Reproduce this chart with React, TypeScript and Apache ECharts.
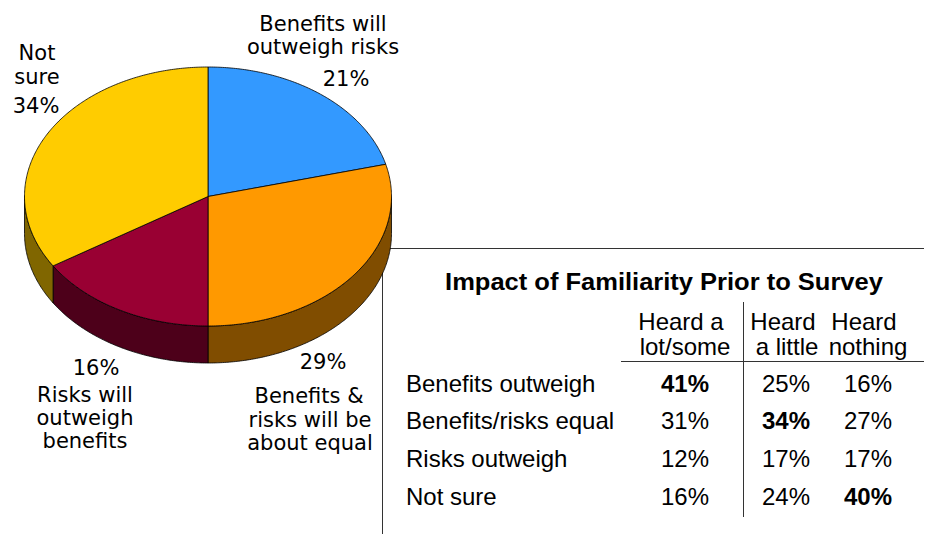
import React, { useEffect, useRef } from "react";
import * as echarts from "echarts";

const sliceNames = ["Benefits will outweigh risks", "Benefits & risks will be about equal", "Risks will outweigh benefits", "Not sure"];
const sliceValues = [21, 29, 16, 34];
const topColors = ["#3399FF", "#FF9900", "#990033", "#FFCC00"];
const sideColors = ["#1A4D80", "#804D00", "#4D001A", "#806600"];

const pieLabels: [string, number, number][] = [
  ["Benefits will", 323, 24],
  ["outweigh risks", 323, 47],
  ["21%", 346, 79],
  ["Not", 37, 53],
  ["sure", 37, 77],
  ["34%", 36, 106],
  ["16%", 96, 368],
  ["Risks will", 85, 395],
  ["outweigh", 85, 418],
  ["benefits", 85, 441],
  ["29%", 323, 362],
  ["Benefits &", 309, 396],
  ["risks will be", 310, 420],
  ["about equal", 310, 443],
];

const tableTitle = "Impact of Familiarity Prior to Survey";
const tableHeaders: [string, number, number][] = [
  ["Heard a", 681, 321.5],
  ["lot/some", 685, 346],
  ["Heard", 783, 321.5],
  ["a little", 787, 346],
  ["Heard", 864, 321.5],
  ["nothing", 868, 346],
];
const rowNames = ["Benefits outweigh", "Benefits/risks equal", "Risks outweigh", "Not sure"];
const rowY = [383, 420, 458, 496];
const colX = [685, 786, 868];
const tableValues = [
  ["41%", "25%", "16%"],
  ["31%", "34%", "27%"],
  ["12%", "17%", "17%"],
  ["16%", "24%", "40%"],
];
const boldCells = ["0-0", "1-1", "3-2"];

const CX = 208;
const CY = 196.5;
const RX = 183.5;
const RY = 129.5;
const DEPTH = 37;
const total = sliceValues.reduce((a, b) => a + b, 0);

const startOf = (i: number) => (sliceValues.slice(0, i).reduce((a, b) => a + b, 0) / total) * Math.PI * 2;
const pt = (a: number, dy = 0): [number, number] => [CX + RX * Math.sin(a), CY - RY * Math.cos(a) + dy];
const arc = (a0: number, a1: number, dy = 0) => {
  const n = Math.max(2, Math.ceil(Math.abs(a1 - a0) / 0.01));
  const out: [number, number][] = [];
  for (let k = 0; k <= n; k++) out.push(pt(a0 + ((a1 - a0) * k) / n, dy));
  return out;
};

const LABEL_FONT = '"DejaVu Sans"';
const TABLE_FONT = '"Liberation Sans"';

export default function App() {
  const ref = useRef<HTMLDivElement>(null);
  useEffect(() => {
    document.body.style.margin = "0";
    const chart = echarts.init(ref.current!, undefined, { renderer: "svg" });
    const txt = (text: string, x: number, y: number, font: string, size: number, align = "center", weight = "normal", scaleX = 1) => ({
      type: "text",
      z: 10,
      x,
      y,
      scaleX,
      style: { text, fontFamily: font, fontSize: size, fontWeight: weight, fill: "#000", align, verticalAlign: "middle" },
    });
    const line = (x1: number, y1: number, x2: number, y2: number, stroke = "#333") => ({
      type: "line",
      z: 0,
      shape: { x1, y1, x2, y2 },
      style: { stroke, lineWidth: 1 },
    });
    const elements: any[] = [
      line(382.5, 248.5, 924, 248.5),
      line(382.5, 248.5, 382.5, 534),
      line(621, 361.5, 924, 361.5),
      line(743.5, 302, 743.5, 517),
      ...pieLabels.map(([t, x, y]) => txt(t, x, y, LABEL_FONT, 21)),
      txt(tableTitle, 664, 282, TABLE_FONT, 24, "center", "bold", 1.063),
      ...tableHeaders.map(([t, x, y]) => txt(t, x, y, TABLE_FONT, 24)),
      ...rowNames.map((t, r) => txt(t, 406, rowY[r], TABLE_FONT, 24, "left")),
      ...tableValues.flatMap((row, r) =>
        row.map((v, c) => txt(v, colX[c], rowY[r], TABLE_FONT, 24, "center", boldCells.includes(`${r}-${c}`) ? "bold" : "normal"))
      ),
    ];
    const pieData = sliceValues.map((value, i) => ({ name: sliceNames[i], value }));
    chart.setOption({
      animation: false,
      backgroundColor: "#fff",
      graphic: { elements },
      series: [
        {
          type: "custom",
          coordinateSystem: "none",
          silent: true,
          z: 2,
          data: pieData,
          renderItem: (p: any) => {
            const i = p.dataIndex;
            const a0 = Math.max(startOf(i), Math.PI / 2);
            const a1 = Math.min(startOf(i + 1), (Math.PI * 3) / 2);
            if (a1 <= a0) return { type: "group", children: [] };
            const pts = [...arc(a0, a1), ...arc(a1, a0, DEPTH)];
            return {
              type: "polygon",
              shape: { points: pts },
              style: { fill: sideColors[i], stroke: "#000", lineWidth: 0.8 },
            };
          },
        },
        {
          type: "custom",
          coordinateSystem: "none",
          silent: true,
          z: 3,
          data: pieData,
          renderItem: (p: any) => {
            const i = p.dataIndex;
            const pts = [[CX, CY], ...arc(startOf(i), startOf(i + 1))];
            return {
              type: "polygon",
              shape: { points: pts },
              style: { fill: topColors[i], stroke: "#000", lineWidth: 0.8 },
            };
          },
        },
      ],
    });
    return () => chart.dispose();
  }, []);
  return <div ref={ref} style={{ width: 926, height: 534 }} />;
}
